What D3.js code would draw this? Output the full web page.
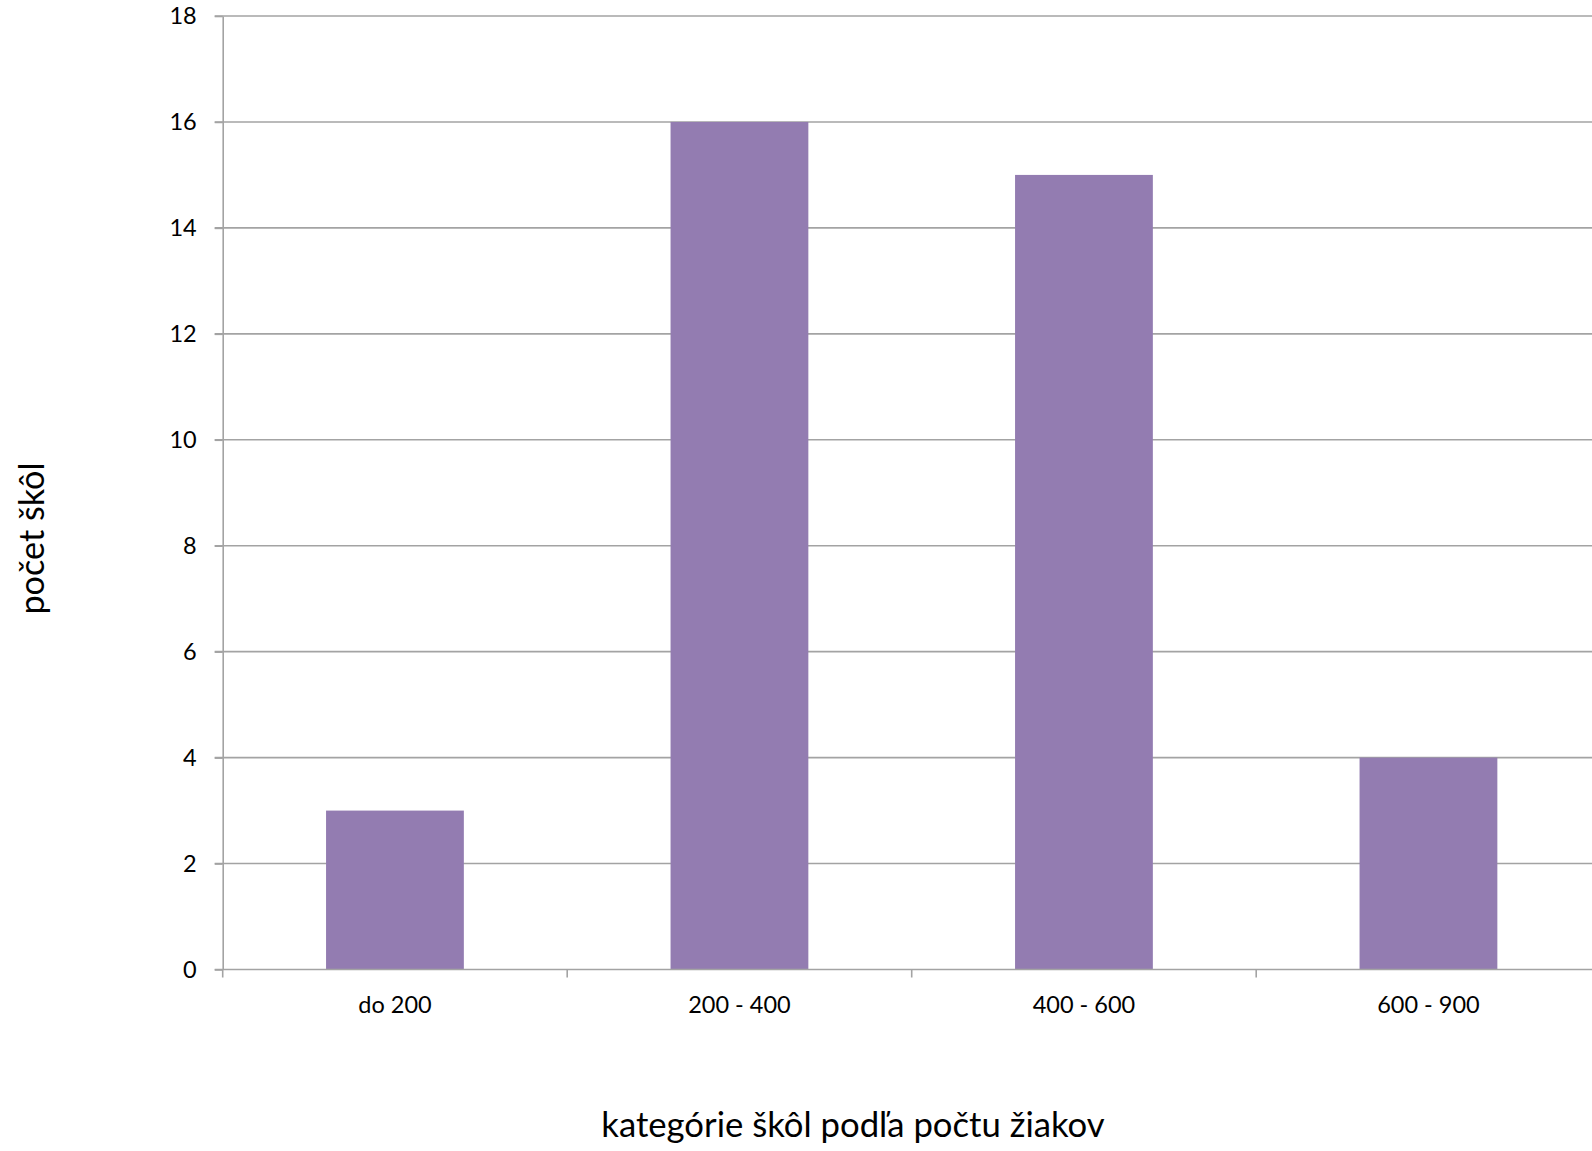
<!DOCTYPE html>
<html><head><meta charset="utf-8">
<script src="https://cdn.jsdelivr.net/npm/d3@7"></script>
<style>body{margin:0;background:#fff}svg{display:block}</style>
</head><body>
<script>
const categories = ["do 200", "200 - 400", "400 - 600", "600 - 900"];
const values = [3, 16, 15, 4];
const yTicks = [0, 2, 4, 6, 8, 10, 12, 14, 16, 18];
const xTitle = "kategórie škôl podľa počtu žiakov";
const yTitle = "počet škôl";

const W = 1592, H = 1151;
const x0 = 222.7, step = 344.5;
const svg = d3.select("body").append("svg").attr("width", W).attr("height", H);
const font = "Lato, 'Open Sans', sans-serif";
const gridColor = "#a3a3a3";

const x = d3.scaleBand().domain(categories).range([x0, x0 + step * categories.length])
  .paddingInner(0.6).paddingOuter(0.3);
const y = d3.scaleLinear().domain([0, 18]).range([969.5, 16]);

// gridlines
svg.append("g").selectAll("line").data(yTicks.filter(d => d > 0)).join("line")
  .attr("x1", x0 - 8).attr("x2", W).attr("y1", d => y(d)).attr("y2", d => y(d))
  .attr("stroke", gridColor).attr("stroke-width", 1.6);

// bars
svg.append("g").selectAll("rect").data(values).join("rect")
  .attr("x", (d, i) => x(categories[i])).attr("width", x.bandwidth())
  .attr("y", d => y(d)).attr("height", d => y(0) - y(d))
  .attr("fill", "#937cb1");

// y axis
const yAxis = svg.append("g").attr("transform", `translate(${x0},0)`)
  .call(d3.axisLeft(y).tickValues(yTicks).tickSize(8).tickSizeOuter(0).tickPadding(18));
yAxis.select(".domain").attr("stroke", gridColor).attr("stroke-width", 1.6);
yAxis.selectAll(".tick line").attr("stroke", gridColor).attr("stroke-width", 1.6);
yAxis.selectAll(".tick text").attr("font-family", font).attr("font-size", 23.5).attr("fill", "#000");

// x axis
const boundaries = d3.range(categories.length + 1).map(i => x0 + i * step);
const xg = svg.append("g");
xg.append("line").attr("x1", x0 - 8).attr("x2", W).attr("y1", y(0)).attr("y2", y(0))
  .attr("stroke", gridColor).attr("stroke-width", 1.6);
xg.selectAll("line.t").data(boundaries).join("line").attr("class", "t")
  .attr("x1", d => d).attr("x2", d => d).attr("y1", y(0)).attr("y2", y(0) + 8)
  .attr("stroke", gridColor).attr("stroke-width", 1.6);
xg.selectAll("text").data(categories).join("text")
  .attr("x", d => x(d) + x.bandwidth() / 2).attr("y", 1013)
  .attr("text-anchor", "middle").attr("font-family", font).attr("font-size", 23.5)
  .text(d => d);

// titles
svg.append("text").attr("x", 853).attr("y", 1137).attr("text-anchor", "middle")
  .attr("font-family", font).attr("font-size", 34.7).text(xTitle);
svg.append("text").attr("transform", "translate(44,538.5) rotate(-90)").attr("text-anchor", "middle")
  .attr("font-family", font).attr("font-size", 34.2).text(yTitle);
</script>
</body></html>
